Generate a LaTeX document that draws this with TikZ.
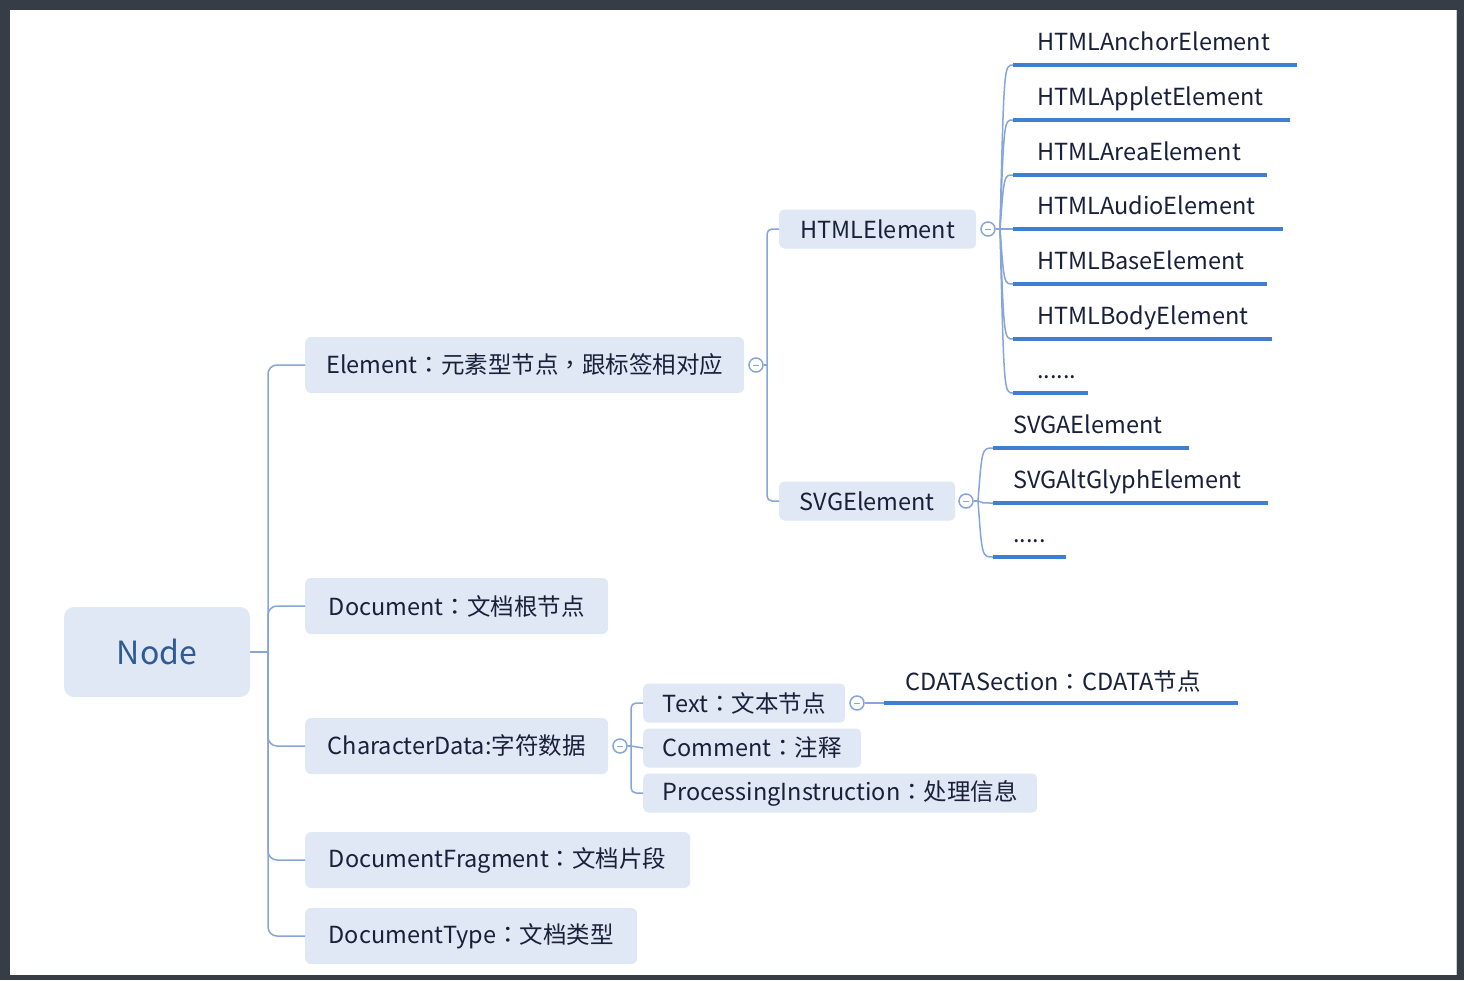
\documentclass[tikz,border=0pt]{standalone}
\usepackage{fontspec}
\setmainfont{Noto Sans CJK SC}
\newfontfamily\tcpunct{Noto Sans CJK TC}
\newcommand{\fwc}{{\tcpunct ：}}
\newcommand{\fwcomma}{{\tcpunct ，}}
\usetikzlibrary{calc}
\definecolor{framec}{HTML}{363D47}
\definecolor{boxfill}{HTML}{DFE8F4}
\definecolor{conn}{HTML}{86A5DA}
\definecolor{uline}{HTML}{3F7ED0}
\definecolor{txt}{HTML}{18203A}
\definecolor{roottxt}{HTML}{2E5A96}
\begin{document}
\begin{tikzpicture}[x=1pt,y=-1pt,
  lab/.style={font=\fontsize{23.5}{27}\selectfont, text=txt},
  rootbox/.style={fill=boxfill, rounded corners=10pt, minimum width=186pt, minimum height=90pt, inner sep=0pt, font=\fontsize{32}{36}\selectfont, text=roottxt},
  lvone/.style={lab, fill=boxfill, rounded corners=6pt, minimum height=56pt, inner sep=0pt, anchor=west},
  lvtwo/.style={lab, fill=boxfill, rounded corners=5pt, minimum height=39pt, inner sep=0pt, anchor=west},
  leaf/.style={lab, anchor=base west, inner sep=0pt},
  conn/.style={draw=conn, line width=1.5pt},
  ul/.style={draw=uline, line width=3.2pt},
  collapse/.style={circle, draw=conn, fill=white, line width=1.5pt, minimum size=14pt, inner sep=0pt}
]
\useasboundingbox (0,0) rectangle (1464,980);
\fill[framec] (0,0) rectangle (1464,980);
\fill[white] (10,10) rectangle (1457,975);
\draw[gray!40, line width=1pt] (1456,10) -- (1456,975);

% root
\node[rootbox] (root) at (157,652) {Node};
\coordinate (trunk) at (268,652);

% level 1
\node[lvone, minimum width=439pt] (el) at (305,365) {Element\fwc 元素型节点\fwcomma 跟标签相对应};
\node[lvone, minimum width=303pt] (doc) at (305,606) {Document\fwc 文档根节点};
\node[lvone, minimum width=303pt] (cd) at (305,746) {CharacterData:字符数据};
\node[lvone, minimum width=385pt] (df) at (305,860) {DocumentFragment\fwc 文档片段};
\node[lvone, minimum width=332pt] (dt) at (305,936) {DocumentType\fwc 文档类型};

\draw[conn] (root.east) -- (trunk);
\foreach \n in {el,doc,cd,df,dt}{
  \draw[conn, rounded corners=9pt] (trunk) |- (\n.west);
}

% Element children
\node[collapse] (elc) at (756,365) {};
\draw[conn, line width=1pt] ($(elc)+(-3,0)$) -- ($(elc)+(3,0)$);
\coordinate (elhub) at (767,365);
\node[lvtwo, minimum width=197pt] (html) at (779,229) {HTMLElement};
\node[lvtwo, minimum width=176pt] (svg) at (779,501) {SVGElement};
\draw[conn] (elc.east) -- (elhub);
\draw[conn, rounded corners=5pt] (elhub) |- (html.west);
\draw[conn, rounded corners=5pt] (elhub) |- (svg.west);

% HTMLElement leaves
\node[collapse] (htmlc) at (988,229) {};
\draw[conn, line width=1pt] ($(htmlc)+(-3,0)$) -- ($(htmlc)+(3,0)$);
\coordinate (htmlhub) at (1000,229);
\draw[conn] (htmlc.east) -- (htmlhub);

\node[leaf] (h1) at (1037,50) {HTMLAnchorElement};
\node[leaf] (h2) at (1037,105) {HTMLAppletElement};
\node[leaf] (h3) at (1037,160) {HTMLAreaElement};
\node[leaf] (h4) at (1037,214) {HTMLAudioElement};
\node[leaf] (h5) at (1037,269) {HTMLBaseElement};
\node[leaf] (h6) at (1037,324) {HTMLBodyElement};
\node[leaf] (h7) at (1037,378) {......};

\coordinate (h1a) at (1013,65);  \coordinate (h1b) at (1297,65);
\coordinate (h2a) at (1013,120); \coordinate (h2b) at (1290,120);
\coordinate (h3a) at (1013,175); \coordinate (h3b) at (1267,175);
\coordinate (h4a) at (1013,229); \coordinate (h4b) at (1283,229);
\coordinate (h5a) at (1013,284); \coordinate (h5b) at (1267,284);
\coordinate (h6a) at (1013,339); \coordinate (h6b) at (1272,339);
\coordinate (h7a) at (1013,393); \coordinate (h7b) at (1088,393);
\foreach \k/\yy in {1/65,2/120,3/175,4/229,5/284,6/339,7/393}{
  \draw[conn] (htmlhub) .. controls (1004,\yy) .. (h\k a);
  \draw[ul] (h\k a) -- (h\k b);
}

% SVGElement leaves
\node[collapse] (svgc) at (966,501) {};
\draw[conn, line width=1pt] ($(svgc)+(-3,0)$) -- ($(svgc)+(3,0)$);
\coordinate (svghub) at (978,501);
\draw[conn] (svgc.east) -- (svghub);
\node[leaf] (s1) at (1013,433) {SVGAElement};
\node[leaf] (s2) at (1013,488) {SVGAltGlyphElement};
\node[leaf] (s3) at (1013,542) {.....};
\coordinate (s1a) at (993,448); \coordinate (s1b) at (1189,448);
\coordinate (s2a) at (993,503); \coordinate (s2b) at (1268,503);
\coordinate (s3a) at (993,557); \coordinate (s3b) at (1066,557);
\foreach \k/\yy in {1/448,2/503,3/557}{
  \draw[conn] (svghub) .. controls (982,\yy) .. (s\k a);
  \draw[ul] (s\k a) -- (s\k b);
}

% CharacterData children
\node[collapse] (cdc) at (620,746) {};
\draw[conn, line width=1pt] ($(cdc)+(-3,0)$) -- ($(cdc)+(3,0)$);
\coordinate (cdhub) at (631,746);
\draw[conn] (cdc.east) -- (cdhub);
\node[lvtwo, minimum width=202pt] (txtn) at (643,703) {Text\fwc 文本节点};
\node[lvtwo, minimum width=218pt] (cmt) at (643,748) {Comment\fwc 注释};
\node[lvtwo, minimum width=394pt] (pi) at (643,793) {ProcessingInstruction\fwc 处理信息};
\draw[conn, rounded corners=5pt] (cdhub) |- (txtn.west);
\draw[conn] (cdhub) -- (cmt.west);
\draw[conn, rounded corners=5pt] (cdhub) |- (pi.west);

% Text child
\node[collapse] (txc) at (857,703) {};
\draw[conn, line width=1pt] ($(txc)+(-3,0)$) -- ($(txc)+(3,0)$);
\node[leaf] (cdata) at (905,690) {CDATASection\fwc CDATA节点};
\coordinate (cda) at (884,703); \coordinate (cdb) at (1238,703);
\draw[conn] (txc.east) -- (cda);
\draw[ul] (cda) -- (cdb);
\end{tikzpicture}
\end{document}
